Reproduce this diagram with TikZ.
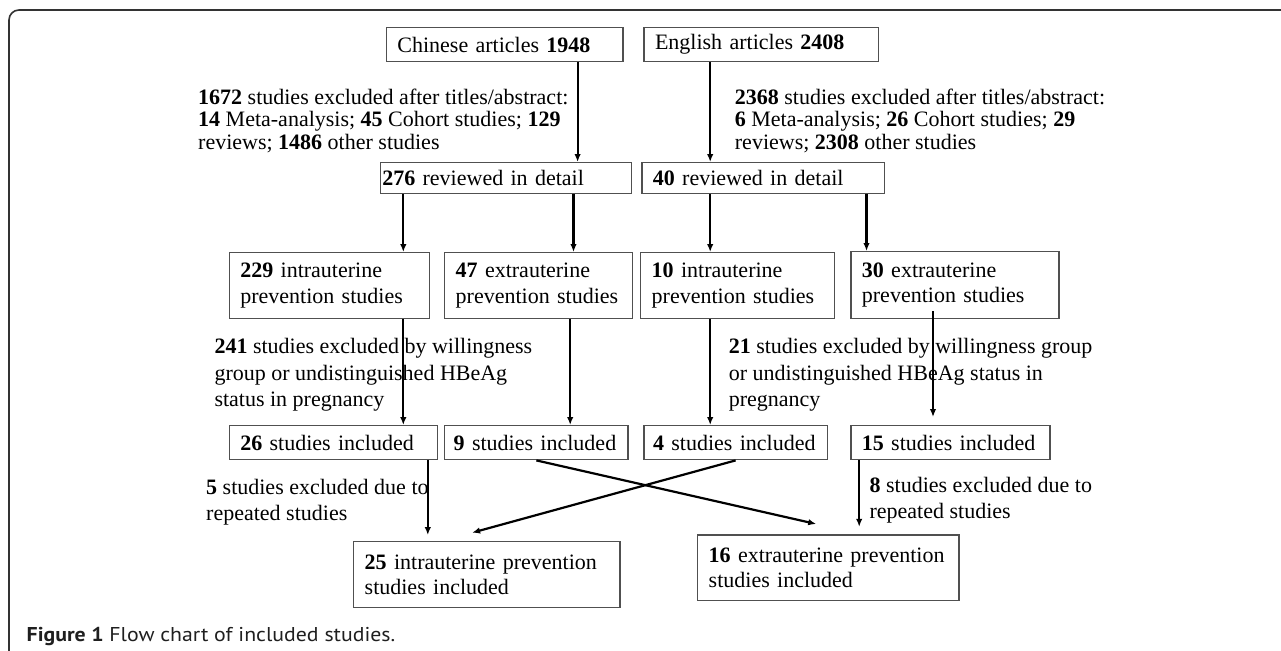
\documentclass[tikz,border=0pt]{standalone}
\usepackage{fontspec}
\setmainfont{Liberation Serif}
\newfontfamily\capfont{PT Sans}[FakeStretch=1.09]
\usetikzlibrary{arrows.meta}
\definecolor{boxgray}{HTML}{505050}
\definecolor{framegray}{HTML}{333333}
\newcommand\boxnohyph{\hyphenpenalty=10000\relax\exhyphenpenalty=10000\relax\hbadness=10000\relax\hfuzz=20pt\relax}
\begin{document}
\begin{tikzpicture}[x=1pt,y=-1pt,
  box/.style={draw=boxgray, line width=1.4pt, anchor=north west, align=left,
    inner xsep=11pt, inner ysep=0pt,
    font=\fontsize{22}{25.5}\selectfont\boxnohyph},
  lbl/.style={anchor=north west, align=left, inner sep=0pt},
  arr/.style={line width=2.2pt, -{Latex[length=8pt,width=6.5pt]}},
]
\useasboundingbox (0,0) rectangle (1281,650);
\fill[white] (0,0) rectangle (1281,650);
\draw[framegray, line width=1.6pt, rounded corners=10pt] (9,655) -- (9,10) -- (1290,10);

% boxes
\node[box, text width=214.7pt, minimum height=34pt] (A) at (385.7,27) {Chinese~articles~\textbf{1948}};
\node[box, text width=212.7pt, minimum height=34pt] (B) at (643.3,27) {English~articles~\textbf{2408}};
\node[box, inner xsep=2pt, text width=247pt, minimum height=31pt] (C) at (379.6,162) {\textbf{276}~reviewed~in~detail};
\node[box, text width=220.8pt, minimum height=31pt] (D) at (641.2,162) {\textbf{40}~reviewed~in~detail};
\node[box, text width=178pt, minimum height=66pt] (E) at (228.6,252) {\textbf{229}~intrauterine\\prevention~studies};
\node[box, text width=165.8pt, minimum height=66pt] (F) at (444,252) {\textbf{47}~extrauterine\\prevention~studies};
\node[box, text width=171.9pt, minimum height=66pt] (G) at (640,252) {\textbf{10}~intrauterine\\prevention~studies};
\node[box, text width=186.2pt, minimum height=67pt] (H) at (850.2,251) {\textbf{30}~extrauterine\\prevention~studies};
\node[box, text width=186.1pt, minimum height=34pt] (I) at (228.6,425) {\textbf{26}~studies~included};
\node[box, inner xsep=9pt, text width=165.3pt, minimum height=34pt] (J) at (444,425) {\textbf{9}~studies~included};
\node[box, inner xsep=9pt, text width=165.2pt, minimum height=34pt] (K) at (643.3,425) {\textbf{4}~studies~included};
\node[box, text width=177.2pt, minimum height=34pt] (L) at (850.2,425) {\textbf{15}~studies~included};
\node[box, text width=244.2pt, minimum height=66pt] (M) at (353,541) {\textbf{25}~intrauterine~prevention\\studies~included};
\node[box, text width=239.4pt, minimum height=65.7pt] (N) at (697,534.3) {\textbf{16}~extrauterine~prevention\\studies~included};

% labels
\node[lbl, font=\fontsize{22}{22.5}\selectfont] (t1) at (198,88.5)
  {\textbf{1672} studies excluded after titles/abstract:\\
   \textbf{14} Meta-analysis; \textbf{45} Cohort studies; \textbf{129}\\
   reviews; \textbf{1486} other studies};
\node[lbl, font=\fontsize{22}{22.5}\selectfont] (t2) at (734.7,88.5)
  {\textbf{2368} studies excluded after titles/abstract:\\
   \textbf{6} Meta-analysis; \textbf{26} Cohort studies; \textbf{29}\\
   reviews; \textbf{2308} other studies};
\node[lbl, font=\fontsize{22}{26.3}\selectfont] (t3) at (214.3,338.3)
  {\textbf{241} studies excluded by willingness\\
   group or undistinguished HBeAg\\
   status in pregnancy};
\node[lbl, font=\fontsize{22}{26.3}\selectfont] (t4) at (728.6,338.3)
  {\textbf{21} studies excluded by willingness group\\
   or undistinguished HBeAg status in\\
   pregnancy};
\node[lbl, font=\fontsize{22}{26}\selectfont] (t5) at (206,479)
  {\textbf{5} studies excluded due to\\ repeated studies};
\node[lbl, font=\fontsize{22}{26}\selectfont] (t6) at (869.4,476.6)
  {\textbf{8} studies excluded due to\\ repeated studies};

% caption
\node[anchor=base west, inner sep=0pt, text=black!88, font=\capfont\fontsize{20}{24}\selectfont] (cap) at (26.5,641.5)
  {\textbf{Figure 1} Flow chart of included studies.};

% arrow columns
\coordinate (xAC) at (577.6,0);
\coordinate (xBD) at (710.2,0);
\coordinate (xCE) at (403.3,0);
\coordinate (xCF) at (573.5,0);
\coordinate (xFJ) at (570.2,0);
\coordinate (xDH) at (866.5,0);
\coordinate (xHL) at (933,0);
\coordinate (xIM) at (427.8,0);
\coordinate (xLN) at (859.2,0);

% arrows
\draw[arr] (A.south -| xAC) -- (C.north -| xAC);
\draw[arr] (B.south -| xBD) -- (D.north -| xBD);
\draw[arr] (C.south -| xCE) -- (E.north -| xCE);
\draw[arr] (C.south -| xCF) -- (F.north -| xCF);
\draw[arr] (D.south -| xBD) -- (G.north -| xBD);
\draw[arr] (D.south -| xDH) -- (H.north -| xDH);
\draw[arr] (E.south -| xCE) -- (I.north -| xCE);
\draw[arr] (F.south -| xFJ) -- (J.north -| xFJ);
\draw[arr] (G.south -| xBD) -- (K.north -| xBD);
\draw[arr, shorten <=-8pt, shorten >=8pt] (H.south -| xHL) -- (L.north -| xHL);
\draw[arr, shorten >=6pt] (I.south -| xIM) -- (M.north -| xIM);
\draw[arr, shorten >=7.5pt] (L.south -| xLN) -- (N.north -| xLN);
\draw[arr] (J.south) -- ([xshift=-12.2pt,yshift=10.3pt]N.north);
\draw[arr] (K.south) -- ([xshift=-14.7pt,yshift=8.3pt]M.north);
\end{tikzpicture}
\end{document}
